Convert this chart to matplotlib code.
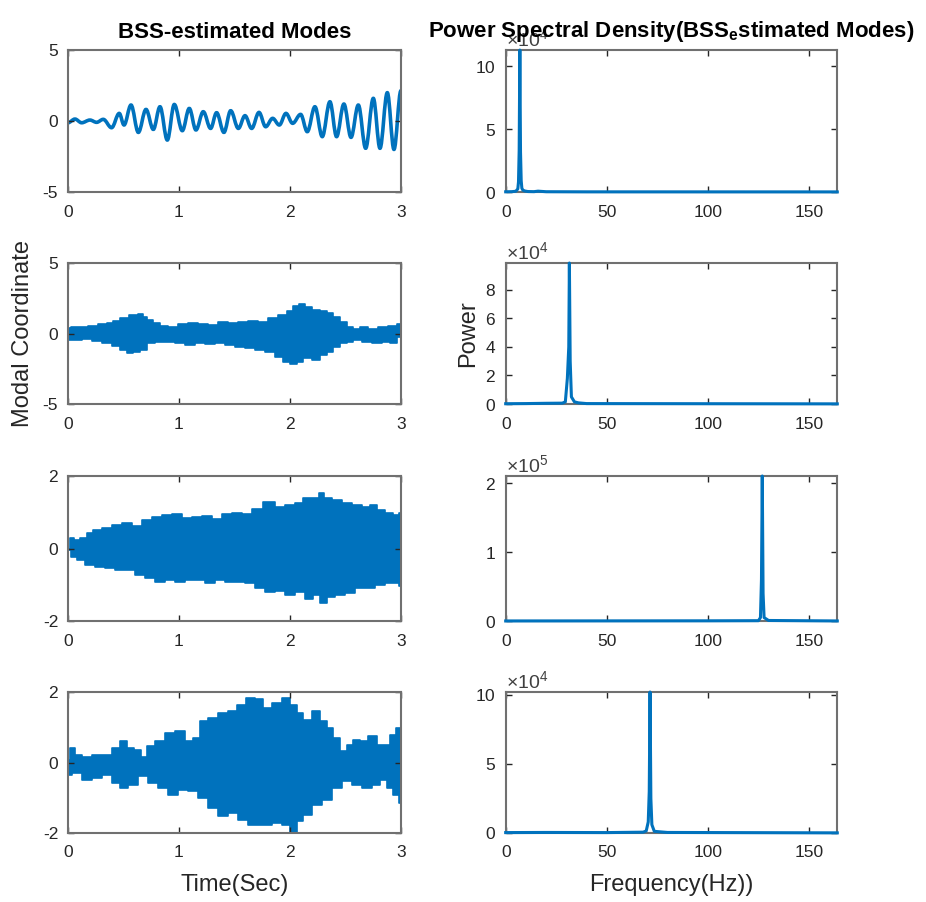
import numpy as np
import matplotlib
matplotlib.use("Agg")
import matplotlib.pyplot as plt
from matplotlib.ticker import ScalarFormatter
from matplotlib.path import Path
from matplotlib.patches import PathPatch

plt.rcParams["font.family"] = ["Liberation Sans", "DejaVu Sans"]
plt.rcParams["mathtext.fontset"] = "custom"
plt.rcParams["mathtext.rm"] = "Liberation Sans"
plt.rcParams["mathtext.bf"] = "Liberation Sans:bold"
plt.rcParams["axes.unicode_minus"] = False
plt.rcParams["axes.linewidth"] = 1.5
plt.rcParams["axes.edgecolor"] = "#707070"

# Mode 1 (time signal, extrema)
mode1_t = [0.000, 0.063, 0.123, 0.198, 0.258, 0.318, 0.393, 0.462, 0.505, 0.568,
           0.634, 0.703, 0.769, 0.829, 0.895, 0.958, 1.030, 1.093, 1.153, 1.219,
           1.285, 1.339, 1.405, 1.466, 1.535, 1.595, 1.655, 1.721, 1.781, 1.844,
           1.904, 1.964, 2.024, 2.096, 2.156, 2.225, 2.291, 2.360, 2.420, 2.486,
           2.550, 2.616, 2.682, 2.751, 2.811, 2.877, 2.937, 3.000]
mode1_y = [-0.12, 0.14, -0.12, 0.07, -0.09, 0.12, -0.47, 0.54, -0.28, 1.13,
           -0.80, 0.82, -0.59, 1.01, -1.34, 1.17, -0.68, 0.89, -0.63, 0.66,
           -0.52, 0.59, -0.80, 0.73, -0.52, 0.38, -0.52, 0.61, -0.40, 0.19,
           -0.28, 0.54, -0.16, 0.47, -0.75, 1.01, -1.10, 1.36, -1.10, 1.20,
           -1.15, 1.13, -1.92, 1.60, -1.92, 2.00, -2.00, 2.14]

# Modes 2-4 are dense, so keep their upper / lower envelopes
mode2_tu = [0.000, 0.048, 0.138, 0.228, 0.318, 0.378, 0.438, 0.498, 0.604, 0.649,
            0.694, 0.739, 0.799, 0.859, 0.949, 1.039, 1.129, 1.219, 1.309, 1.399,
            1.489, 1.580, 1.670, 1.760, 1.850, 1.940, 2.000, 2.060, 2.105, 2.165,
            2.240, 2.300, 2.360, 2.420, 2.480, 2.540, 2.601, 2.661, 2.751, 2.841,
            2.931, 3.000]
mode2_yu = [0.37, 0.48, 0.44, 0.53, 0.65, 0.72, 0.91, 1.08, 1.31, 1.38,
            1.19, 0.96, 0.72, 0.53, 0.48, 0.65, 0.72, 0.67, 0.60, 0.79,
            0.72, 0.79, 0.91, 0.84, 1.08, 1.31, 1.62, 1.95, 2.09, 1.90,
            1.67, 1.62, 1.43, 1.19, 0.84, 0.48, 0.30, 0.44, 0.30, 0.48,
            0.53, 0.65]
mode2_tl = [0.000, 0.078, 0.168, 0.258, 0.348, 0.438, 0.498, 0.559, 0.619, 0.679,
            0.739, 0.829, 0.919, 1.009, 1.099, 1.189, 1.279, 1.369, 1.459, 1.550,
            1.640, 1.730, 1.820, 1.910, 1.970, 2.030, 2.090, 2.150, 2.240, 2.300,
            2.360, 2.420, 2.480, 2.540, 2.601, 2.691, 2.781, 2.871, 2.931, 3.000]
mode2_yl = [-0.46, -0.46, -0.41, -0.51, -0.70, -0.89, -1.17, -1.41, -1.29, -1.17,
            -0.70, -0.63, -0.58, -0.70, -0.82, -0.70, -0.74, -0.70, -0.82, -0.93,
            -1.05, -1.17, -1.34, -1.64, -2.00, -2.16, -2.00, -1.76, -1.88, -1.52,
            -1.29, -0.93, -0.70, -0.58, -0.46, -0.58, -0.65, -0.58, -0.65, -0.22]

mode3_tu = [0.000, 0.033, 0.078, 0.138, 0.198, 0.258, 0.348, 0.438, 0.529, 0.619,
            0.709, 0.799, 0.889, 0.979, 1.069, 1.159, 1.249, 1.339, 1.429, 1.520,
            1.610, 1.700, 1.820, 1.910, 2.000, 2.090, 2.150, 2.240, 2.285, 2.330,
            2.420, 2.511, 2.601, 2.691, 2.751, 2.811, 2.901, 2.961, 3.000]
mode3_yu = [0.00, 0.28, 0.23, 0.28, 0.42, 0.51, 0.56, 0.65, 0.69, 0.62,
            0.79, 0.88, 0.92, 0.94, 0.83, 0.88, 0.90, 0.80, 0.94, 0.97,
            0.95, 1.08, 1.29, 1.15, 1.20, 1.25, 1.38, 1.38, 1.52, 1.38,
            1.34, 1.25, 1.20, 1.15, 1.20, 1.06, 0.97, 0.92, 0.97]
mode3_tl = [0.000, 0.048, 0.108, 0.198, 0.288, 0.378, 0.468, 0.559, 0.649, 0.739,
            0.829, 0.919, 1.009, 1.099, 1.189, 1.279, 1.369, 1.459, 1.550, 1.640,
            1.730, 1.820, 1.910, 2.000, 2.090, 2.180, 2.240, 2.300, 2.360, 2.450,
            2.540, 2.631, 2.721, 2.811, 2.901, 2.961, 3.000]
mode3_yl = [-0.04, -0.23, -0.32, -0.46, -0.50, -0.55, -0.59, -0.59, -0.73, -0.82,
            -0.91, -0.87, -0.91, -0.87, -0.87, -0.94, -0.87, -0.91, -0.91, -0.96,
            -1.10, -1.19, -1.16, -1.29, -1.19, -1.38, -1.29, -1.49, -1.33, -1.29,
            -1.22, -1.10, -1.10, -1.01, -0.96, -0.96, -1.03]

mode4_tu = [0.000, 0.042, 0.078, 0.168, 0.258, 0.348, 0.438, 0.498, 0.559, 0.634,
            0.679, 0.739, 0.829, 0.919, 1.009, 1.099, 1.159, 1.219, 1.309, 1.399,
            1.489, 1.564, 1.640, 1.730, 1.790, 1.880, 1.970, 2.030, 2.090, 2.150,
            2.240, 2.300, 2.360, 2.420, 2.480, 2.540, 2.601, 2.661, 2.751, 2.811,
            2.871, 2.931, 2.976, 3.000]
mode4_yu = [0.08, 0.41, 0.22, 0.17, 0.22, 0.22, 0.41, 0.60, 0.41, 0.36,
            0.17, 0.46, 0.60, 0.84, 0.88, 0.60, 0.69, 1.17, 1.26, 1.40,
            1.45, 1.64, 1.83, 1.81, 1.55, 1.69, 1.83, 1.64, 1.40, 1.21,
            1.45, 1.17, 0.98, 0.69, 0.32, 0.51, 0.65, 0.60, 0.74, 0.51,
            0.51, 0.79, 0.98, 0.79]
mode4_tl = [0.000, 0.078, 0.168, 0.258, 0.348, 0.438, 0.498, 0.589, 0.679, 0.769,
            0.859, 0.949, 1.039, 1.129, 1.219, 1.309, 1.399, 1.489, 1.580, 1.670,
            1.790, 1.880, 1.970, 2.030, 2.090, 2.150, 2.240, 2.330, 2.420, 2.511,
            2.601, 2.691, 2.781, 2.841, 2.901, 2.961, 3.000]
mode4_yl = [-0.35, -0.30, -0.49, -0.44, -0.35, -0.58, -0.72, -0.63, -0.39, -0.58,
            -0.72, -0.91, -0.77, -0.82, -1.01, -1.29, -1.53, -1.44, -1.62, -1.76,
            -1.76, -1.72, -1.76, -2.00, -1.67, -1.48, -1.20, -1.06, -0.72, -0.53,
            -0.63, -0.72, -0.63, -0.49, -0.72, -0.91, -1.15]

# Power spectral densities
psd1_f = [0, 3, 5, 6, 6.33, 6.67, 7.0, 7.33, 7.67, 8.0, 8.5, 9.5, 11, 14, 16, 20, 40, 164]
psd1_p = [200, 300, 600, 2500, 8000, 33000, 112700, 32000, 9000, 3000, 1500, 800,
          400, 300, 700, 250, 150, 100]
psd2_f = [0, 10, 20, 28, 29.5, 30.5, 31.2, 31.5, 31.9, 32.5, 34, 36, 40, 164]
psd2_p = [200, 300, 500, 600, 1500, 18000, 40000, 98800, 30000, 5000, 1500, 800,
          300, 100]
psd3_f = [0, 50, 100, 125, 126.0, 126.5, 126.9, 127.3, 127.8, 130, 164]
psd3_p = [100, 200, 300, 500, 5000, 60000, 210600, 40000, 5000, 800, 100]
psd4_f = [0, 20, 50, 68, 69.5, 70.5, 71.0, 71.4, 71.8, 72.3, 73.5, 80, 164]
psd4_p = [300, 400, 300, 600, 1500, 8000, 30000, 102000, 25000, 6000, 1200, 400, 100]

psd_yticks = [[0, 5e4, 10e4], [0, 2e4, 4e4, 6e4, 8e4], [0, 1e5, 2e5], [0, 5e4, 10e4]]
psd_exp = [4, 4, 5, 4]
left_ylims = [(-5, 5), (-5, 5), (-2, 2), (-2, 2)]
left_yticks = [[-5, 0, 5], [-5, 0, 5], [-2, 0, 2], [-2, 0, 2]]

blue = "#0072BD"
fig = plt.figure(figsize=(9.26, 9.02), dpi=100)

rows = [(0.7871, 0.1574), (0.5521, 0.1563), (0.3115, 0.1608), (0.0765, 0.1563)]
axL = [fig.add_axes([0.0734, b, 0.3596, h]) for b, h in rows]
axR = [fig.add_axes([0.5461, b, 0.3581, h]) for b, h in rows]

# mode 1: smooth curve through the read extrema (flat tangent at each extremum)
verts = [(mode1_t[0], mode1_y[0])]
codes = [Path.MOVETO]
for i in range(1, len(mode1_t)):
    t0, y0 = mode1_t[i - 1], mode1_y[i - 1]
    t1, y1 = mode1_t[i], mode1_y[i]
    d = t1 - t0
    verts += [(t0 + 0.36 * d, y0), (t1 - 0.36 * d, y1), (t1, y1)]
    codes += [Path.CURVE4] * 3
axL[0].add_patch(PathPatch(Path(verts, codes), fill=False, ec=blue, lw=2.6,
                           capstyle="round", joinstyle="round"))

envs = [(mode2_tu, mode2_yu, mode2_tl, mode2_yl),
        (mode3_tu, mode3_yu, mode3_tl, mode3_yl),
        (mode4_tu, mode4_yu, mode4_tl, mode4_yl)]
for ax, (tu, yu, tl, yl) in zip(axL[1:], envs):
    ax.fill_between(tu, yu, 0, step="mid", color=blue, lw=1.2, ec=blue)
    ax.fill_between(tl, yl, 0, step="mid", color=blue, lw=1.2, ec=blue)

for ax, lim, tk in zip(axL, left_ylims, left_yticks):
    ax.set_xlim(0, 3)
    ax.set_ylim(*lim)
    ax.set_xticks([0, 1, 2, 3])
    ax.set_yticks(tk)

psds = [(psd1_f, psd1_p), (psd2_f, psd2_p), (psd3_f, psd3_p), (psd4_f, psd4_p)]
for ax, (f, p), tk, e in zip(axR, psds, psd_yticks, psd_exp):
    ax.plot(f, p, color=blue, lw=2.2, clip_on=False, zorder=3)
    ax.set_xlim(0, 164)
    ax.set_ylim(0, max(p))
    ax.set_xticks([0, 50, 100, 150])
    ax.set_yticks(tk)
    fmt = ScalarFormatter(useMathText=True)
    fmt.set_powerlimits((e, e))
    ax.yaxis.set_major_formatter(fmt)

for ax in axL + axR:
    ax.tick_params(direction="in", top=True, right=True, length=4, width=1,
                   color="#262626", labelsize=12.5, labelcolor="#262626")
    ax.tick_params(axis="x", pad=9)
    ax.tick_params(axis="y", pad=7)

for ax in axR:
    ax.yaxis.get_offset_text().set_fontsize(14)
    ax.yaxis.get_offset_text().set_color("#404040")

axL[0].set_title("BSS-estimated Modes", fontsize=16, fontweight="bold",
                 y=1.085, pad=0)
axR[0].set_title(r"Power Spectral Density(BSS$_\mathbf{e}$stimated Modes)",
                 fontsize=16, fontweight="bold", y=1.09, pad=0)
axL[1].set_ylabel("Modal Coordinate", fontsize=17, color="#262626", labelpad=6)
axR[1].set_ylabel("Power", fontsize=17, color="#262626", labelpad=4)
axL[3].set_xlabel("Time(Sec)", fontsize=17, color="#262626", labelpad=10)
axR[3].set_xlabel("Frequency(Hz))", fontsize=17, color="#262626", labelpad=10)

plt.savefig("out.png", dpi=100)
